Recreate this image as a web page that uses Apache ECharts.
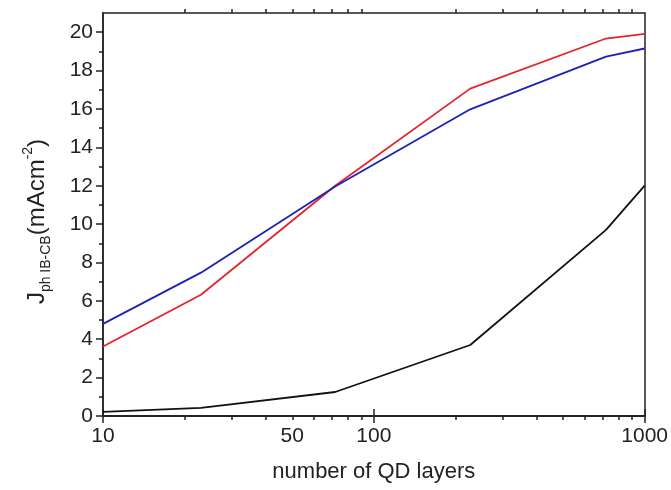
<!DOCTYPE html>
<html>
<head>
<meta charset="utf-8">
<script src="https://cdn.jsdelivr.net/npm/echarts@6/dist/echarts.min.js"></script>
<style>html,body{margin:0;padding:0;background:#fff;}#c{width:671px;height:490px;}</style>
</head>
<body>
<div id="c"></div>
<script>
const layers = [10, 23, 72, 227, 720, 1000];
const redValues = [3.62, 6.32, 12.0, 17.06, 19.67, 19.91];
const blueValues = [4.8, 7.47, 11.96, 15.98, 18.73, 19.15];
const blackValues = [0.21, 0.42, 1.25, 3.7, 9.7, 12.0];
const xLabelValues = [10, 50, 100, 1000];
const xMajorTicks = [10, 100, 1000];
const xMinorTicks = [20, 30, 40, 50, 60, 70, 80, 90, 200, 300, 400, 500, 600, 700, 800, 900];
const yMajorTicks = [0, 2, 4, 6, 8, 10, 12, 14, 16, 18, 20];
const yMinorTicks = [1, 3, 5, 7, 9, 11, 13, 15, 17, 19];

const font = 'Liberation Sans, Arial, sans-serif';
const axisLineStyle = { color: '#222', width: 1.5 };

function pairs(xs, ys) { return xs.map((x, i) => [x, ys[i]]); }

function xAxisDef(pos, ticks, len, labels, extra) {
  return Object.assign({
    type: 'log', logBase: 10, min: 10, max: 1000, position: pos,
    axisLine: { show: true, lineStyle: axisLineStyle },
    axisTick: { show: true, inside: false, length: len, customValues: ticks, lineStyle: axisLineStyle },
    axisLabel: labels ? { show: true, customValues: labels, fontSize: 21, color: '#222', fontFamily: font, margin: 10, formatter: v => String(Math.round(v)) } : { show: false },
    splitLine: { show: false }, minorTick: { show: false }, minorSplitLine: { show: false }
  }, extra || {});
}
function yAxisDef(pos, ticks, len, labels, extra) {
  return Object.assign({
    type: 'value', min: 0, max: 21, position: pos,
    axisLine: { show: true, lineStyle: axisLineStyle },
    axisTick: ticks ? { show: true, inside: false, length: len, customValues: ticks, lineStyle: axisLineStyle } : { show: false },
    axisLabel: labels ? { show: true, customValues: labels, fontSize: 21, color: '#222', fontFamily: font, margin: 10 } : { show: false },
    splitLine: { show: false }
  }, extra || {});
}

const chart = echarts.init(document.getElementById('c'), null, { renderer: 'canvas' });
chart.setOption({
  animation: false,
  backgroundColor: '#fff',
  grid: { left: 103, right: 26, top: 13, bottom: 74, containLabel: false },
  xAxis: [
    xAxisDef('bottom', xMajorTicks, 7, xLabelValues, {
      name: 'number of QD layers', nameLocation: 'middle', nameGap: 45,
      nameTextStyle: { fontSize: 22, color: '#222', fontFamily: font }
    }),
    xAxisDef('bottom', xMinorTicks, 4, null),
    xAxisDef('top', xMajorTicks, 7, null),
    xAxisDef('top', xMinorTicks, 4, null)
  ],
  yAxis: [
    yAxisDef('left', yMajorTicks, 7, yMajorTicks, {
      name: '{m|J}{sub|ph IB-CB}{m|(mAcm}{sup|-2}{m|)}',
      nameLocation: 'middle', nameRotate: 90, nameGap: 50,
      nameTextStyle: {
        fontFamily: font, color: '#222', padding: [0, 14, 0, 0],
        rich: {
          m: { fontSize: 24, lineHeight: 32, fontFamily: font, color: '#222' },
          sub: { fontSize: 14, lineHeight: 15, verticalAlign: 'bottom', fontFamily: font, color: '#222' },
          sup: { fontSize: 14, lineHeight: 15, verticalAlign: 'top', fontFamily: font, color: '#222' }
        }
      }
    }),
    yAxisDef('left', yMinorTicks, 4, null),
    yAxisDef('right', null, 0, null)
  ],
  series: [
    { name: 'red', type: 'line', xAxisIndex: 0, yAxisIndex: 0, data: pairs(layers, redValues), showSymbol: false, lineStyle: { color: '#e3242f', width: 1.8 }, itemStyle: { color: '#e3242f' } },
    { name: 'blue', type: 'line', xAxisIndex: 0, yAxisIndex: 0, data: pairs(layers, blueValues), showSymbol: false, lineStyle: { color: '#1c22b4', width: 1.8 }, itemStyle: { color: '#1c22b4' } },
    { name: 'black', type: 'line', xAxisIndex: 0, yAxisIndex: 0, data: pairs(layers, blackValues), showSymbol: false, lineStyle: { color: '#111', width: 1.8 }, itemStyle: { color: '#111' } }
  ]
});
</script>
</body>
</html>
